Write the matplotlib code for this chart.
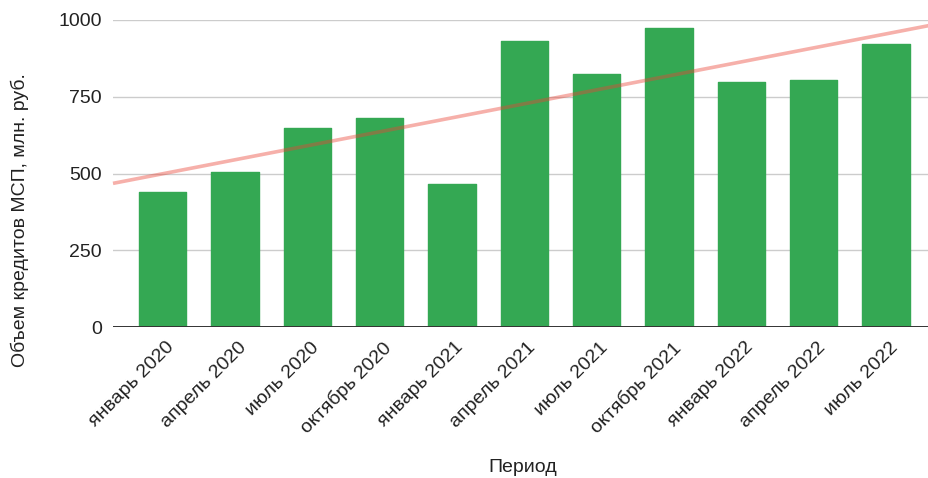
import numpy as np
import matplotlib
matplotlib.use("Agg")
import matplotlib.pyplot as plt
import matplotlib.transforms as mtransforms

plt.rcParams['font.family'] = ['Liberation Sans', 'DejaVu Sans']

categories = ["январь 2020", "апрель 2020", "июль 2020", "октябрь 2020",
              "январь 2021", "апрель 2021", "июль 2021", "октябрь 2021",
              "январь 2022", "апрель 2022", "июль 2022"]
values = [439, 504, 649, 680, 467, 932, 825, 975, 799, 804, 922]
yticks = [0, 250, 500, 750, 1000]

W, H = 929, 478
fig = plt.figure(figsize=(W / 100, H / 100), dpi=100)
ax = fig.add_axes([113 / W, 1 - 327 / H, (929 - 113) / W, (327 - 20) / H])

x = np.arange(len(categories))
ax.bar(x, values, width=0.654, color='#34a853', edgecolor='#34a853',
       linewidth=1.0, joinstyle='round', zorder=2)

xl = (-0.684, 10.594)
coef = np.polyfit(x, values, 1)
tx = np.array(xl)
ax.plot(tx, np.polyval(coef, tx), color='#ea4335', alpha=0.42, lw=2.6,
        solid_capstyle='butt', zorder=3, clip_on=False)

ax.set_xlim(*xl)
ax.set_ylim(0, 1000)
ax.set_yticks(yticks)
ax.set_yticklabels([str(v) for v in yticks])
ax.grid(axis='y', color='#cccccc', lw=1.0, zorder=0)
ax.axhline(0, color='#333333', lw=1.4, zorder=4)
for s in ax.spines.values():
    s.set_visible(False)
ax.tick_params(axis='both', length=0, labelsize=14, colors='#222222')
ax.tick_params(axis='y', pad=8)

ax.set_xticks(x)
ax.set_xticklabels(categories, rotation=45, ha='right', va='top',
                   rotation_mode='anchor')
offset = mtransforms.ScaledTranslation(3 / 100, -7 / 100, fig.dpi_scale_trans)
for lab in ax.get_xticklabels():
    lab.set_transform(lab.get_transform() + offset)

fig.text(20 / W, 1 - 220 / H, "Объем кредитов МСП, млн. руб.", rotation=90,
         ha='center', va='center', fontsize=14, color='#222222')
fig.text(523 / W, 1 - 468 / H, "Период", ha='center', va='center',
         fontsize=14, color='#222222')

fig.savefig("out.png", dpi=100)
